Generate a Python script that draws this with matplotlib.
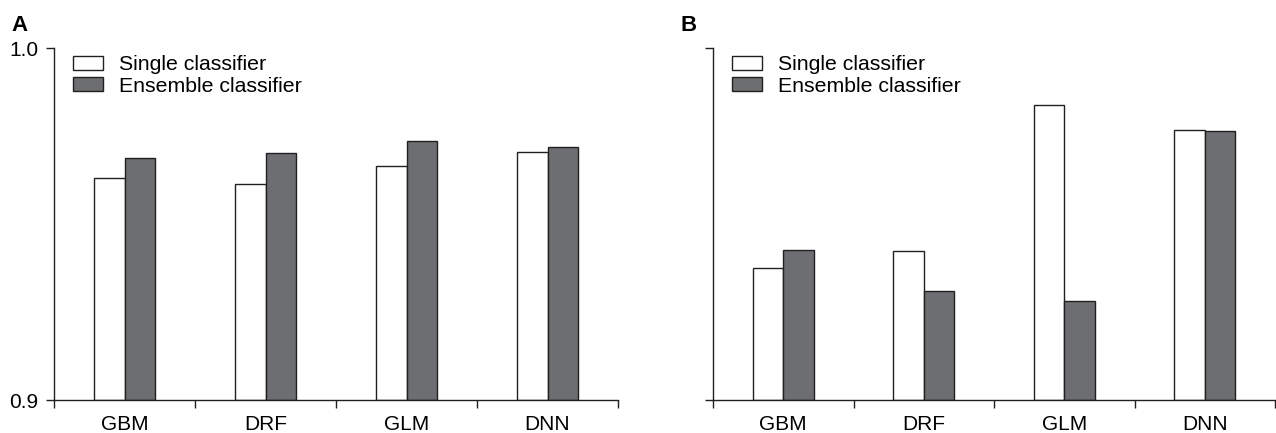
import matplotlib.pyplot as plt
import numpy as np

plt.rcParams['font.family'] = ['Liberation Sans', 'DejaVu Sans']

# models on the x axis
models = ['GBM', 'DRF', 'GLM', 'DNN']
single_a = [0.963, 0.9614, 0.9665, 0.9705]
ensemble_a = [0.9688, 0.9702, 0.9735, 0.9719]
# panel B values (no tick labels in the original, same scale assumed)
single_b = [0.9376, 0.9424, 0.9839, 0.9767]
ensemble_b = [0.9425, 0.9309, 0.9281, 0.9765]
legend_labels = ['Single classifier', 'Ensemble classifier']

edge = '#231f20'
dark = '#6d6e71'
width = 0.216

fig = plt.figure(figsize=(12.76, 4.33), dpi=100)
ax_a = fig.add_axes([54/1276, 33/433, 564/1276, 352/433])
ax_b = fig.add_axes([713/1276, 33/433, 562/1276, 352/433])


def draw_panel(ax, single, ensemble, show_labels):
    x = np.arange(len(models))
    ax.bar(x - width/2, np.array(single) - 0.9, width, bottom=0.9,
           color='white', edgecolor=edge, linewidth=1.0, label=legend_labels[0])
    ax.bar(x + width/2, np.array(ensemble) - 0.9, width, bottom=0.9,
           color=dark, edgecolor=edge, linewidth=1.0, label=legend_labels[1])
    ax.set_xlim(-0.5, len(models) - 0.5)
    ax.set_ylim(0.9, 1.0)
    ax.set_yticks([0.9, 1.0])
    if show_labels:
        ax.set_yticklabels(['0.9', '1.0'])
    else:
        ax.set_yticklabels(['', ''])
    ax.set_xticks(np.arange(-0.5, len(models)))
    ax.set_xticklabels([''] * (len(models) + 1))
    ax.set_xticks(x, minor=True)
    ax.set_xticklabels(models, minor=True)
    ax.tick_params(axis='x', which='minor', length=0, pad=11, labelsize=15)
    ax.tick_params(axis='both', which='major', length=5.5, width=1.0,
                   color=edge, labelsize=15, pad=6)
    for s in ['top', 'right']:
        ax.spines[s].set_visible(False)
    for s in ['left', 'bottom']:
        ax.spines[s].set_color(edge)
        ax.spines[s].set_linewidth(1.0)
    ax.legend(loc='upper left', bbox_to_anchor=(0.034, 0.979), frameon=False,
              fontsize=15.3, handlelength=1.4, handleheight=0.63,
              handletextpad=0.75, labelspacing=0.1, borderpad=0,
              borderaxespad=0)


draw_panel(ax_a, single_a, ensemble_a, True)
draw_panel(ax_b, single_b, ensemble_b, False)

fig.text(11/1276, 1 - 31/433, 'A', fontsize=16, fontweight='bold')
fig.text(681/1276, 1 - 31/433, 'B', fontsize=16, fontweight='bold')

plt.savefig('out.png', dpi=100)
